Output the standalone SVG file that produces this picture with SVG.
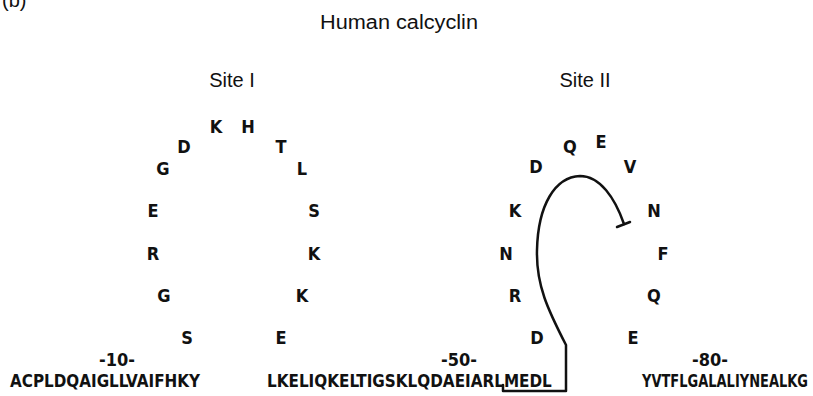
<svg xmlns="http://www.w3.org/2000/svg" width="813" height="396" viewBox="0 0 813 396">
<style>
.t{font-family:"Liberation Sans",Arial,sans-serif;font-size:20px;fill:#111}
.r{font-family:"Liberation Sans Narrow","DejaVu Sans Condensed","Liberation Sans",sans-serif;font-size:18px;font-weight:bold;fill:#111;text-anchor:middle;font-stretch:condensed}
.s{font-family:"Liberation Sans Narrow","DejaVu Sans Condensed","Liberation Sans",sans-serif;font-size:18px;font-weight:bold;fill:#111;font-stretch:condensed}
.c{fill:none;stroke:#111;stroke-width:2.5;stroke-linecap:round;stroke-linejoin:round}
</style>
<rect width="813" height="396" fill="#fff"/>
<g id="labels">
<text class="t" x="2" y="7">(b)</text>
<text class="t" x="320" y="29" textLength="158" lengthAdjust="spacingAndGlyphs">Human calcyclin</text>
<text class="t" x="232" y="87" text-anchor="middle">Site I</text>
<text class="t" x="585" y="87" text-anchor="middle">Site II</text>
</g>
<g id="site1">
<text class="r" x="216" y="133">K</text>
<text class="r" x="248" y="133">H</text>
<text class="r" x="184" y="153">D</text>
<text class="r" x="281" y="153">T</text>
<text class="r" x="163" y="175">G</text>
<text class="r" x="302" y="175">L</text>
<text class="r" x="153" y="217">E</text>
<text class="r" x="314" y="217">S</text>
<text class="r" x="153" y="260">R</text>
<text class="r" x="314" y="260">K</text>
<text class="r" x="164" y="302">G</text>
<text class="r" x="302" y="302">K</text>
<text class="r" x="187" y="344">S</text>
<text class="r" x="281" y="344">E</text>
</g>
<g id="site2">
<text class="r" x="570" y="153">Q</text>
<text class="r" x="601" y="148">E</text>
<text class="r" x="536" y="173">D</text>
<text class="r" x="630" y="173">V</text>
<text class="r" x="515" y="217">K</text>
<text class="r" x="654" y="217">N</text>
<text class="r" x="506" y="260">N</text>
<text class="r" x="663" y="260">F</text>
<text class="r" x="515" y="302">R</text>
<text class="r" x="654" y="302">Q</text>
<text class="r" x="537" y="344">D</text>
<text class="r" x="633" y="344">E</text>
</g>
<g id="sequence">
<text class="r" x="117" y="366">-10-</text>
<text class="r" x="459" y="366">-50-</text>
<text class="r" x="710" y="366">-80-</text>
<text class="s" transform="translate(10,387) scale(0.8,1)" x="0" y="0" textLength="237.5" lengthAdjust="spacingAndGlyphs">ACPLDQAIGLLVAIFHKY</text>
<text class="s" transform="translate(267,387) scale(0.8,1)" x="0" y="0" textLength="356" lengthAdjust="spacingAndGlyphs">LKELIQKELTIGSKLQDAEIARLMEDL</text>
<text class="s" transform="translate(642,387) scale(0.8,1)" x="0" y="0" textLength="207.5" lengthAdjust="spacingAndGlyphs">YVTFLGALALIYNEALKG</text>
</g>
<g id="connectors">
<path class="c" d="M503,385 V391 H566 V345 C548,310 536,285 537,250 C538,205 555,177 580,176 C600,176 615,198 624,224"/>
<path class="c" d="M617,227 L630,222"/>
</g>
</svg>
